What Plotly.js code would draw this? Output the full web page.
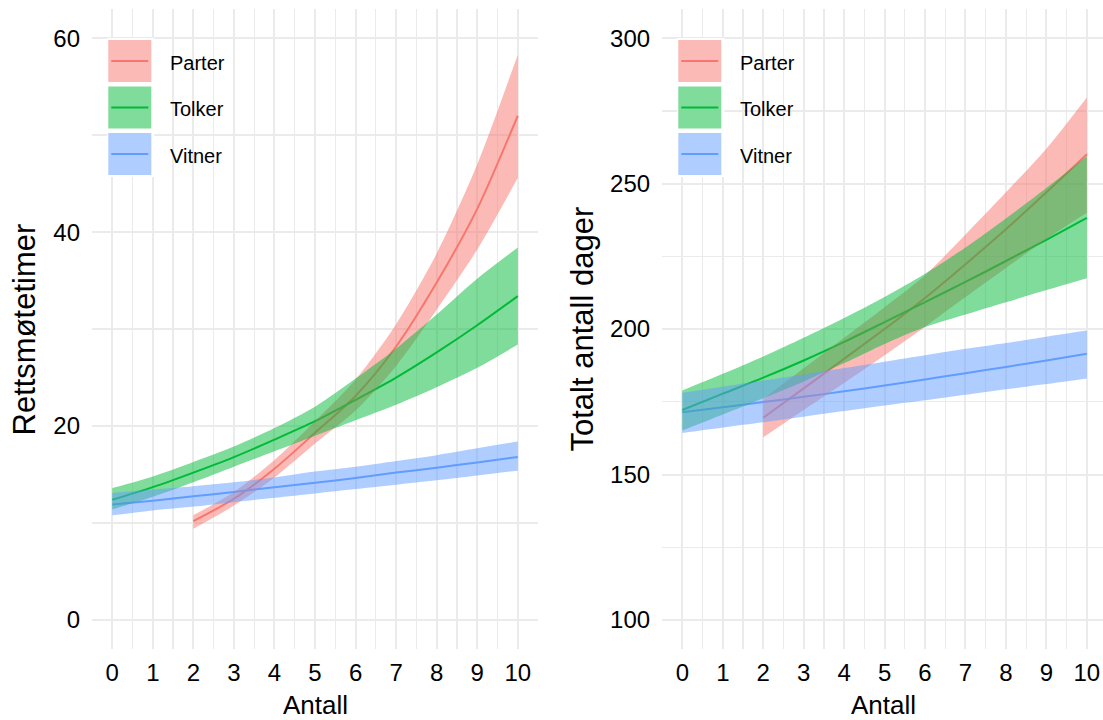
<!DOCTYPE html>
<html>
<head>
<meta charset="utf-8">
<script src="https://cdn.plot.ly/plotly-3.0.1.min.js"></script>
<style>html,body{margin:0;padding:0;background:#fff;}#chart{width:1103px;height:720px;}</style>
</head>
<body>
<div id="chart"></div>
<script>
// ---------------- data ----------------
const antall = [0, 1, 2, 3, 4, 5, 6, 7, 8, 9, 10];
const antallParter = [2, 3, 4, 5, 6, 7, 8, 9, 10];
const groups = ["Parter", "Tolker", "Vitner"];

// Left panel: Rettsmøtetimer
const timerParter   = [10.2, 12.5, 15.6, 19.3, 23.1, 28.2, 34.8, 42.4, 52.0];
const timerParterLo = [9.4, 11.8, 14.7, 18.2, 21.6, 26.2, 32.0, 38.2, 45.6];
const timerParterHi = [10.8, 13.2, 16.5, 20.5, 24.8, 30.5, 37.8, 47.0, 58.3];
const timerTolker   = [12.4, 13.7, 15.2, 16.8, 18.6, 20.5, 22.7, 25.0, 27.6, 30.4, 33.4];
const timerTolkerLo = [11.4, 12.7, 14.2, 15.8, 17.4, 19.0, 20.6, 22.2, 24.0, 26.0, 28.4];
const timerTolkerHi = [13.6, 14.8, 16.3, 17.9, 19.8, 22.0, 24.9, 28.0, 31.5, 35.2, 38.4];
const timerVitner   = [11.9, 12.3, 12.75, 13.2, 13.7, 14.15, 14.65, 15.2, 15.7, 16.25, 16.8];
const timerVitnerLo = [10.8, 11.3, 11.7, 12.15, 12.6, 13.05, 13.5, 13.95, 14.4, 14.9, 15.4];
const timerVitnerHi = [13.1, 13.45, 13.8, 14.2, 14.7, 15.3, 15.8, 16.4, 17.0, 17.7, 18.4];

// Right panel: Totalt antall dager
const dagerParter   = [169.5, 179.6, 189.8, 200.0, 210.7, 222.3, 234.3, 247.0, 260.1];
const dagerParterLo = [162.8, 172.2, 181.5, 191.0, 200.8, 211.0, 221.0, 231.0, 240.0];
const dagerParterHi = [176.0, 186.5, 197.0, 207.5, 218.5, 232.5, 247.0, 262.0, 279.6];
const dagerTolker   = [172.2, 177.8, 183.3, 189.2, 195.6, 202.4, 209.3, 216.2, 223.4, 230.7, 238.2];
const dagerTolkerLo = [165.1, 170.6, 176.2, 182.0, 188.3, 194.9, 200.7, 205.0, 209.2, 213.4, 217.5];
const dagerTolkerHi = [178.9, 184.6, 190.6, 197.0, 203.8, 211.0, 219.0, 228.0, 238.0, 248.5, 259.4];
const dagerVitner   = [171.4, 173.1, 174.9, 176.7, 178.6, 180.6, 182.7, 184.8, 187.0, 189.2, 191.5];
const dagerVitnerLo = [164.3, 166.2, 168.0, 169.9, 171.8, 173.7, 175.5, 177.4, 179.3, 181.1, 183.0];
const dagerVitnerHi = [178.1, 180.2, 182.3, 184.4, 186.6, 188.8, 191.0, 193.2, 195.2, 197.4, 199.5];

const xTickVals = [0, 1, 2, 3, 4, 5, 6, 7, 8, 9, 10];
const yTickLeft = [0, 20, 40, 60];
const yTickRight = [100, 150, 200, 250, 300];

// ---------------- styling ----------------
const W = 1103, H = 720;
const px = v => v / W;
const py = v => 1 - v / H;
const lineCol = {Parter: "#F8766D", Tolker: "#00BA38", Vitner: "#619CFF"};
const fillCol = {Parter: "rgba(248,118,109,0.5)", Tolker: "rgba(0,186,56,0.5)", Vitner: "rgba(97,156,255,0.5)"};
const FONT = "Liberation Sans, Arial, sans-serif";

const panels = [
  {xa: "x", ya: "y", data: {
    Parter: [antallParter, timerParter, timerParterLo, timerParterHi],
    Tolker: [antall, timerTolker, timerTolkerLo, timerTolkerHi],
    Vitner: [antall, timerVitner, timerVitnerLo, timerVitnerHi]}},
  {xa: "x2", ya: "y2", data: {
    Parter: [antallParter, dagerParter, dagerParterLo, dagerParterHi],
    Tolker: [antall, dagerTolker, dagerTolkerLo, dagerTolkerHi],
    Vitner: [antall, dagerVitner, dagerVitnerLo, dagerVitnerHi]}}
];

const traces = [];
panels.forEach(p => {
  // lines first (drawn beneath ribbons)
  groups.forEach(g => {
    const d = p.data[g];
    traces.push({type: "scatter", mode: "lines", x: d[0], y: d[1], xaxis: p.xa, yaxis: p.ya,
      line: {color: lineCol[g], width: 2, shape: "spline", smoothing: 0.8},
      showlegend: false, hoverinfo: "skip", name: g});
  });
  groups.forEach(g => {
    const d = p.data[g];
    traces.push({type: "scatter", mode: "lines", x: d[0], y: d[2], xaxis: p.xa, yaxis: p.ya,
      line: {width: 0, color: "rgba(0,0,0,0)", shape: "spline", smoothing: 0.8},
      showlegend: false, hoverinfo: "skip"});
    traces.push({type: "scatter", mode: "lines", x: d[0], y: d[3], xaxis: p.xa, yaxis: p.ya,
      fill: "tonexty", fillcolor: fillCol[g],
      line: {width: 0, color: "rgba(0,0,0,0)", shape: "spline", smoothing: 0.8},
      showlegend: false, hoverinfo: "skip", name: g});
  });
});

const gridCol = "#EBEBEB";
function xaxis(domain, range) {
  return {domain: domain, range: range, tickvals: xTickVals, ticks: "", showline: false,
    zeroline: false, showgrid: true, gridcolor: gridCol, gridwidth: 2,
    minor: {dtick: 0.5, tick0: 0, showgrid: true, gridcolor: gridCol, gridwidth: 1.3},
    tickfont: {family: FONT, size: 24, color: "#000"}, ticklabelstandoff: 7,
    automargin: false, fixedrange: true};
}
function yaxis(range, tickvals, minorDtick, anchor) {
  return {domain: [0.0985, 0.9874], range: range, tickvals: tickvals, ticks: "", anchor: anchor,
    showline: false, zeroline: false, showgrid: true, gridcolor: gridCol, gridwidth: 2,
    minor: {dtick: minorDtick, tick0: 0, showgrid: true, gridcolor: gridCol, gridwidth: 1.3},
    tickfont: {family: FONT, size: 24, color: "#000"}, ticklabelstandoff: 11,
    automargin: false, fixedrange: true};
}

const shapes = [];
const annotations = [];
function legend(x0) {
  // x0 = left px of key column
  shapes.push({type: "rect", xref: "paper", yref: "paper", x0: px(x0 - 1), x1: px(x0 + 46),
    y0: py(177), y1: py(38), fillcolor: "#fff", line: {width: 0}, layer: "above"});
  const tops = [40, 86.5, 133];
  groups.forEach((g, i) => {
    const t = tops[i];
    shapes.push({type: "rect", xref: "paper", yref: "paper", x0: px(x0), x1: px(x0 + 43),
      y0: py(t + 42), y1: py(t), fillcolor: fillCol[g], line: {width: 0}, layer: "above"});
    shapes.push({type: "line", xref: "paper", yref: "paper", x0: px(x0 + 3), x1: px(x0 + 40),
      y0: py(t + 21), y1: py(t + 21), line: {color: lineCol[g], width: 2}, layer: "above"});
    annotations.push({xref: "paper", yref: "paper", x: px(x0 + 60), y: py(t + 22.5),
      xanchor: "left", yanchor: "middle", showarrow: false, text: g,
      font: {family: FONT, size: 20, color: "#000"}});
  });
}
legend(108.3);
legend(678.3);

function title(text, x, y, angle, size) {
  annotations.push({xref: "paper", yref: "paper", x: px(x), y: py(y), xanchor: "center",
    yanchor: "middle", showarrow: false, text: text, textangle: angle,
    font: {family: FONT, size: size, color: "#000"}});
}
title("Antall", 315, 705, 0, 26);
title("Antall", 883, 705, 0, 26);
title("Rettsmøtetimer", 24, 329.5, -90, 31);
title("Totalt antall dager", 582, 329.5, -90, 31);

const layout = {
  width: W, height: H, margin: {l: 0, r: 0, t: 0, b: 0, pad: 0},
  paper_bgcolor: "#fff", plot_bgcolor: "#fff", showlegend: false,
  font: {family: FONT},
  xaxis: xaxis([0.0834, 0.4878], [-0.5, 10.5]),
  yaxis: yaxis([-3, 63], yTickLeft, 10, "x"),
  xaxis2: xaxis([0.6003, 1], [-0.5, 10.4]),
  yaxis2: yaxis([90, 310], yTickRight, 25, "x2"),
  shapes: shapes, annotations: annotations
};
layout.xaxis.anchor = "y";
layout.xaxis2.anchor = "y2";

Plotly.newPlot("chart", traces, layout, {staticPlot: true, displayModeBar: false});
</script>
</body>
</html>
